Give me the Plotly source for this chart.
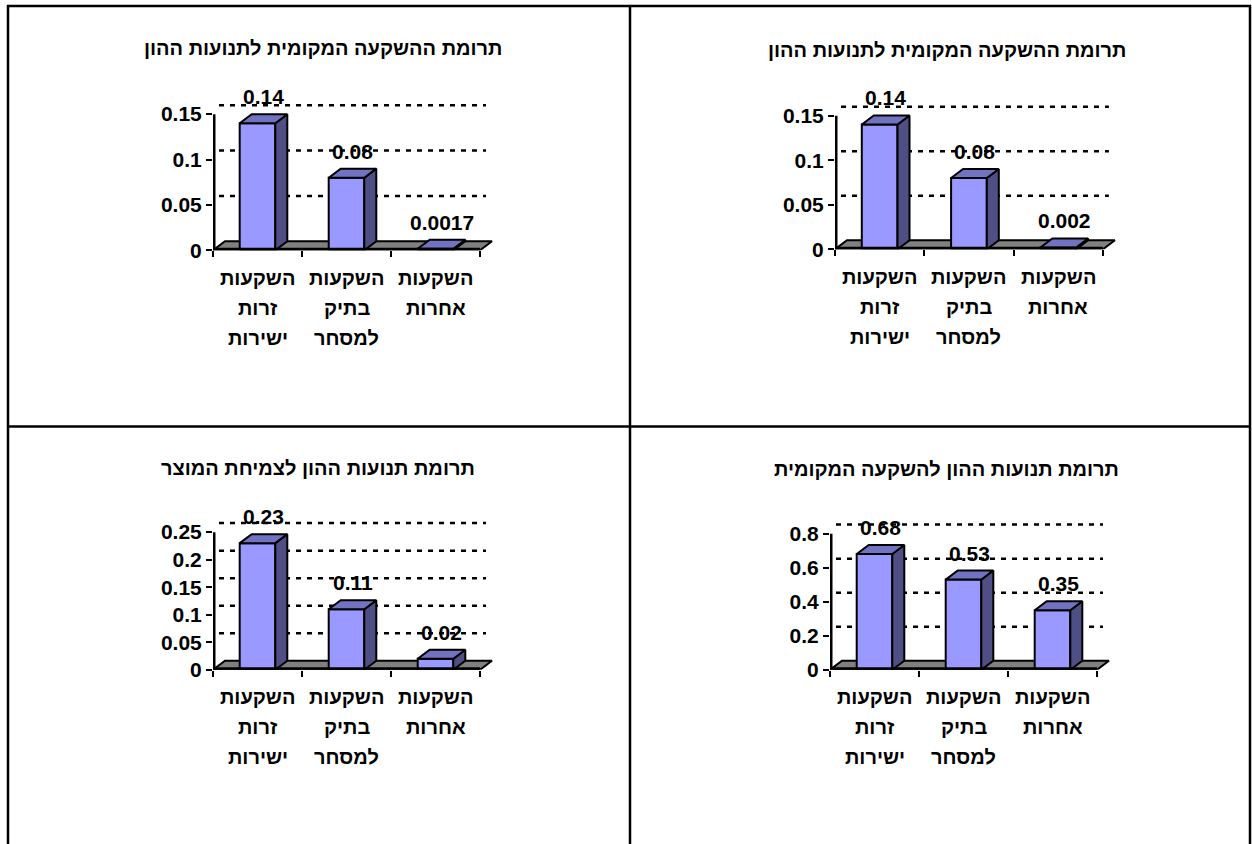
import plotly.graph_objects as go

# ---------------- data ----------------
cat_lines = [["השקעות", "זרות", "ישירות"],
             ["השקעות", "בתיק", "למסחר"],
             ["השקעות", "אחרות"]]

title_tl = "תרומת ההשקעה המקומית לתנועות ההון"
title_tr = "תרומת ההשקעה המקומית לתנועות ההון"
title_bl = "תרומת תנועות ההון לצמיחת המוצר"
title_br = "תרומת תנועות ההון להשקעה המקומית"

values_tl = [0.14, 0.08, 0.0017]
labels_tl = ["0.14", "0.08", "0.0017"]
values_tr = [0.14, 0.08, 0.002]
labels_tr = ["0.14", "0.08", "0.002"]
values_bl = [0.23, 0.11, 0.02]
labels_bl = ["0.23", "0.11", "0.02"]
values_br = [0.68, 0.53, 0.35]
labels_br = ["0.68", "0.53", "0.35"]

ticks_tl = [0, 0.05, 0.1, 0.15]
tick_text_tl = ["0", "0.05", "0.1", "0.15"]
ticks_tr = [0, 0.05, 0.1, 0.15]
tick_text_tr = ["0", "0.05", "0.1", "0.15"]
ticks_bl = [0, 0.05, 0.1, 0.15, 0.2, 0.25]
tick_text_bl = ["0", "0.05", "0.1", "0.15", "0.2", "0.25"]
ticks_br = [0, 0.2, 0.4, 0.6, 0.8]
tick_text_br = ["0", "0.2", "0.4", "0.6", "0.8"]

# ---------------- layout geometry ----------------
REF_W, REF_H = 1252, 844      # reference picture coordinates
W, H = 1252, 856              # figure size
SY = H / REF_H
FONT = "Liberation Sans, DejaVu Sans, Arial, sans-serif"
FRONT, SIDE, TOP, FLOOR = "#9999FF", "#4F4F85", "#7272C2", "#808080"
DX_PX, DY_PX = 12, 9


def px(x):
    return x / REF_W


def py(y):
    return 1 - y / REF_H


panels = [
    dict(title=title_tl, vals=values_tl, labs=labels_tl, ticks=ticks_tl, tt=tick_text_tl,
         x0=213, y0=250, unit=89, tpx=114, tx=323, ty=48),
    dict(title=title_tr, vals=values_tr, labs=labels_tr, ticks=ticks_tr, tt=tick_text_tr,
         x0=835, y0=249, unit=89.3, tpx=115.5, tx=947, ty=50),
    dict(title=title_bl, vals=values_bl, labs=labels_bl, ticks=ticks_bl, tt=tick_text_bl,
         x0=213, y0=669, unit=89, tpx=531.5, tx=318, ty=467),
    dict(title=title_br, vals=values_br, labs=labels_br, ticks=ticks_br, tt=tick_text_br,
         x0=830, y0=669, unit=89, tpx=533, tx=946, ty=468),
]

fig = go.Figure()
annotations = []
layout_axes = {}

for k, p in enumerate(panels, start=1):
    xa = "x" if k == 1 else f"x{k}"
    ya = "y" if k == 1 else f"y{k}"
    T = max(p["ticks"])
    ppu = (p["y0"] - p["tpx"]) / T          # reference pixels per value unit
    top_px = p["tpx"] - 32
    y_top = (p["y0"] - top_px) / ppu
    dx = DX_PX / p["unit"]
    dy = DY_PX / ppu
    x_max = 2.5 + dx + 0.12
    right_px = p["x0"] + p["unit"] * (x_max + 0.5)

    layout_axes["xaxis" + ("" if k == 1 else str(k))] = dict(
        domain=[px(p["x0"]), px(right_px)], range=[-0.5, x_max], anchor=ya,
        tickvals=[-0.5, 0.5, 1.5, 2.5], ticks="outside", ticklen=6 * SY, tickwidth=2,
        tickcolor="black", showticklabels=False, showgrid=False, zeroline=False,
        showline=False, fixedrange=True)
    layout_axes["yaxis" + ("" if k == 1 else str(k))] = dict(
        domain=[py(p["y0"]), py(top_px)], range=[0, y_top], anchor=xa,
        tickvals=p["ticks"], ticktext=p["tt"], ticks="outside", ticklen=6, tickwidth=2,
        tickcolor="black", showgrid=False, zeroline=False, showline=False, fixedrange=True,
        tickfont=dict(family=FONT, size=21, color="black", weight="bold"))

    # floor
    fig.add_trace(go.Scatter(
        x=[-0.5, 2.5, 2.5 + dx, -0.5 + dx, -0.5], y=[0, 0, dy, dy, 0],
        mode="lines", fill="toself", fillcolor=FLOOR, line=dict(color="black", width=2),
        xaxis=xa, yaxis=ya, hoverinfo="skip", showlegend=False))

    # back-wall gridlines
    gx, gy = [], []
    for t in p["ticks"]:
        if t == 0:
            continue
        gx += [-0.5 + dx / 2, 2.5 + dx / 2, None]
        gy += [t + dy, t + dy, None]
    fig.add_trace(go.Scatter(x=gx, y=gy, mode="lines",
                             line=dict(color="black", width=2.5, dash="5px,6px"),
                             xaxis=xa, yaxis=ya, hoverinfo="skip", showlegend=False))

    # bars: front, side, top faces
    w = 0.2
    fxs, fys, sxs, sys_, txs, tys = [], [], [], [], [], []
    for i, v in enumerate(p["vals"]):
        fxs += [i - w, i + w, i + w, i - w, i - w, None]
        fys += [0, 0, v, v, 0, None]
        sxs += [i + w, i + w + dx, i + w + dx, i + w, i + w, None]
        sys_ += [0, dy, v + dy, v, 0, None]
        txs += [i - w, i + w, i + w + dx, i - w + dx, i - w, None]
        tys += [v, v, v + dy, v + dy, v, None]
    for xs, ys, col in ((fxs, fys, FRONT), (sxs, sys_, SIDE), (txs, tys, TOP)):
        fig.add_trace(go.Scatter(x=xs, y=ys, mode="lines", fill="toself", fillcolor=col,
                                 line=dict(color="black", width=2),
                                 xaxis=xa, yaxis=ya, hoverinfo="skip", showlegend=False))

    # axis lines (half of the width is clipped at the plot edge)
    fig.add_trace(go.Scatter(x=[-0.5, -0.5, None, -0.5, 2.5], y=[T, 0, None, 0, 0],
                             mode="lines", line=dict(color="black", width=5),
                             xaxis=xa, yaxis=ya, hoverinfo="skip", showlegend=False))

    # value labels
    for i, (v, lab) in enumerate(zip(p["vals"], p["labs"])):
        annotations.append(dict(
            x=i + dx / 2, y=v + dy, xref=xa, yref=ya, text=lab, showarrow=False,
            yanchor="bottom", yshift=4 * SY,
            font=dict(family=FONT, size=21, color="black", weight="bold")))

    # category labels (one annotation per line)
    for i, lines in enumerate(cat_lines):
        for j, line in enumerate(lines):
            annotations.append(dict(
                x=i, y=0, xref=xa, yref=ya, text=line, showarrow=False,
                yanchor="middle", yshift=-(27 + 29.5 * j) * SY,
                font=dict(family=FONT, size=20, color="black", weight="bold")))

    # title
    annotations.append(dict(
        x=px(p["tx"]), y=py(p["ty"]), xref="paper", yref="paper", text=p["title"],
        showarrow=False, xanchor="center", yanchor="middle",
        font=dict(family=FONT, size=20, color="black", weight="bold")))


# frame lines
def hline(y, x0, x1):
    return dict(type="line", xref="paper", yref="paper", x0=px(x0), x1=px(x1),
                y0=py(y), y1=py(y), line=dict(color="black", width=2.5))


def vline(x, y0, y1):
    return dict(type="line", xref="paper", yref="paper", x0=px(x), x1=px(x),
                y0=py(y0), y1=py(y1), line=dict(color="black", width=2.5))


shapes = [hline(6, 7, 1251), hline(426, 7, 1251),
          vline(8, 5, REF_H), vline(630, 5, REF_H), vline(1250, 5, REF_H)]

fig.update_layout(width=W, height=H, margin=dict(l=0, r=0, t=0, b=0),
                  paper_bgcolor="white", plot_bgcolor="white", showlegend=False,
                  annotations=annotations, shapes=shapes, **layout_axes)

fig.write_html("out.html", config={"displayModeBar": False},
               post_script="document.documentElement.style.overflow='hidden';"
                           "document.body.style.margin='0';"
                           "document.body.style.overflow='hidden';")
